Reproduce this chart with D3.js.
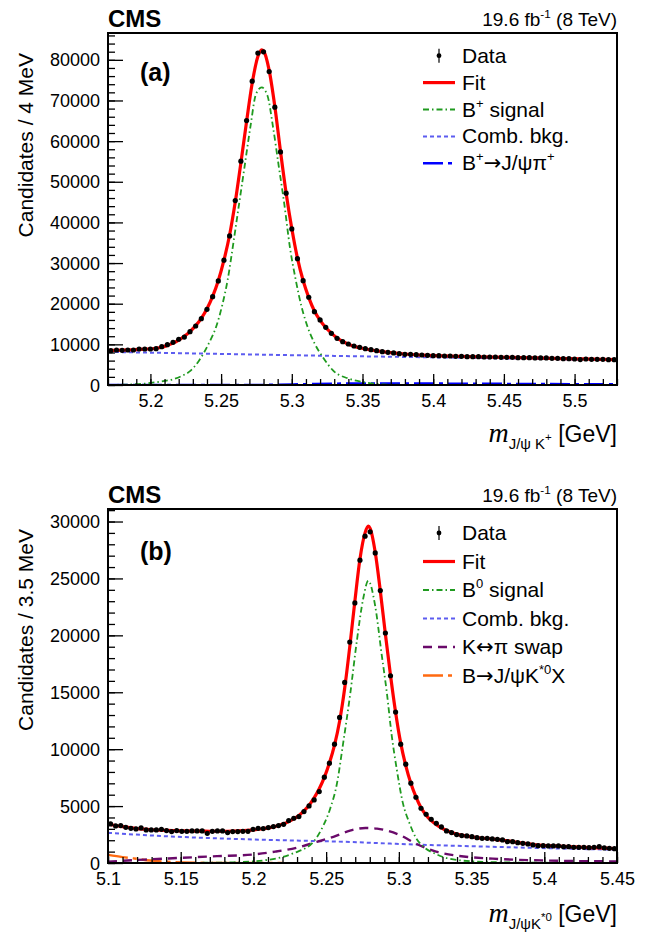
<!DOCTYPE html>
<html>
<head>
<meta charset="utf-8">
<script src="https://cdn.jsdelivr.net/npm/d3@7"></script>
<style>
  body { margin: 0; background: #fff; }
  text { font-family: "Liberation Sans", Arial, sans-serif; fill: #000; }
</style>
</head>
<body>
<div id="chart"></div>
<script>
// ---------- panel (a): B+ -> J/psi K+ , 4 MeV bins from 5.17
const binsA = { lo: 5.17, width: 0.004 };
const dataA = [
  8450, 8615, 8530, 8615, 8615, 8860, 8860, 8860, 8940, 9430,
  9925, 10500, 11250, 11800, 13120, 14520, 16320, 18630, 21730, 25600,
  30700, 36680, 45370, 55060, 65060, 74760, 81650, 81970, 77120, 68360,
  57350, 47190, 38400, 31090, 25670, 21590, 18050, 16000, 14200, 12720,
  11490, 10660, 10090, 9600, 9280, 8940, 8700, 8450, 8200, 8040,
  7880, 7710, 7550, 7550, 7470, 7380, 7300, 7220, 7220, 7140,
  7140, 7050, 7050, 6970, 6970, 6970, 6890, 6890, 6890, 6810,
  6810, 6810, 6730, 6730, 6730, 6650, 6650, 6650, 6560, 6560,
  6480, 6480, 6400, 6250, 6400, 6320, 6320, 6320, 6240, 6240
];
const fitAm = [5.17, 5.18, 5.188, 5.196, 5.204, 5.208, 5.212, 5.216, 5.22, 5.224,
  5.228, 5.232, 5.236, 5.24, 5.244, 5.248, 5.252, 5.256, 5.26, 5.264,
  5.268, 5.272, 5.276, 5.2787, 5.28, 5.284, 5.288, 5.292, 5.296, 5.3,
  5.304, 5.308, 5.312, 5.316, 5.32, 5.324, 5.328, 5.332, 5.336, 5.34,
  5.344, 5.348, 5.352, 5.356, 5.364, 5.372, 5.38, 5.392, 5.4, 5.412,
  5.432, 5.452, 5.472, 5.492, 5.512, 5.53];
const fitAv = [8520, 8580, 8680, 8820, 9050, 9300, 9750, 10300, 11050, 12000,
  13150, 14600, 16400, 18750, 21800, 25650, 30700, 36900, 45000, 54700,
  64800, 74300, 80800, 82450, 82200, 77400, 68500, 57500, 47200, 38500,
  31200, 25700, 21500, 18200, 15900, 14150, 12750, 11550, 10700, 10050,
  9550, 9150, 8850, 8620, 8230, 7900, 7620, 7360, 7230, 7090,
  6950, 6800, 6660, 6500, 6350, 6240];
const sigAm = [5.17, 5.185, 5.2, 5.208, 5.216, 5.222, 5.228, 5.2347, 5.2414, 5.2465,
  5.2507, 5.2547, 5.2587, 5.2627, 5.2667, 5.2707, 5.2747, 5.2787, 5.2827, 5.2867,
  5.2907, 5.2947, 5.2987, 5.3027, 5.3067, 5.31, 5.316, 5.322, 5.33, 5.34,
  5.352, 5.364, 5.38, 5.4, 5.53];
const sigAv = [30, 120, 490, 900, 1400, 2200, 3400, 6150, 10300, 14350,
  19500, 26000, 35000, 44500, 54000, 63500, 71600, 73200, 71300, 63500,
  54000, 44500, 33800, 26000, 19500, 15500, 10300, 6800, 3300, 1600,
  650, 160, 30, 0, 0];
const combAm = [5.17, 5.25, 5.33, 5.4, 5.45, 5.5, 5.53];
const combAv = [8150, 7640, 7160, 6800, 6550, 6300, 6150];
const piAm = [5.17, 5.26, 5.29, 5.31, 5.33, 5.36, 5.4, 5.45, 5.5, 5.53];
const piAv = [0, 0, 60, 200, 330, 380, 350, 280, 200, 160];

// ---------- panel (b): B0 -> J/psi K*0 , 3.5 MeV bins from 5.10
const binsB = { lo: 5.1, width: 0.0035 };
const dataB = [
  3431, 3255, 3284, 3138, 3050, 2991, 3079, 2903, 2903, 2903,
  2962, 2845, 2757, 2845, 2786, 2786, 2815, 2815, 2815, 2610,
  2786, 2815, 2815, 2669, 2757, 2757, 2786, 2786, 2962, 3050,
  3020, 3109, 3196, 3284, 3402, 3725, 3930, 4076, 4516, 5015,
  5543, 6276, 7536, 8768, 10440, 12786, 15866, 19413, 22845, 26600,
  28710, 29091, 27243, 23930, 20206, 16452, 13255, 10440, 8680, 7010,
  5778, 4810, 4282, 3842, 3490, 3167, 2815, 2669, 2493, 2405,
  2375, 2317, 2229, 2170, 2170, 2111, 2082, 2024, 1877, 1877,
  1789, 1730, 1672, 1584, 1525, 1525, 1496, 1496, 1496, 1437,
  1437, 1378, 1378, 1378, 1349, 1378, 1437, 1320, 1290, 1261
];
const fitBm = [5.1, 5.11, 5.12, 5.13, 5.14, 5.15, 5.16, 5.17, 5.18, 5.19,
  5.2, 5.20675, 5.21025, 5.21375, 5.21725, 5.22075, 5.22425, 5.22775, 5.23125, 5.23475,
  5.23825, 5.24175, 5.24525, 5.24875, 5.25225, 5.25575, 5.25925, 5.26275, 5.26625, 5.26975,
  5.27325, 5.27675, 5.279, 5.28025, 5.28375, 5.28725, 5.29075, 5.29425, 5.29775, 5.30125,
  5.30475, 5.30825, 5.31175, 5.31525, 5.31875, 5.32225, 5.32575, 5.32925, 5.33275, 5.33625,
  5.33975, 5.34675, 5.35375, 5.36425, 5.37475, 5.38525, 5.39575, 5.40625, 5.41675, 5.42725,
  5.43775, 5.44825, 5.45];
const fitBv = [3430, 3190, 3020, 2920, 2860, 2820, 2800, 2790, 2790, 2830,
  2910, 3010, 3080, 3170, 3290, 3440, 3640, 3880, 4180, 4580,
  5080, 5720, 6520, 7520, 8780, 10350, 12450, 15350, 19000, 23000,
  26700, 29000, 29590, 29400, 27300, 23900, 20100, 16500, 13250, 10550,
  8550, 7000, 5800, 4850, 4200, 3720, 3370, 3080, 2850, 2680,
  2540, 2360, 2230, 2100, 1950, 1740, 1570, 1500, 1440, 1380,
  1330, 1270, 1265];
const sigBm = [5.1, 5.15, 5.186, 5.2091, 5.2274, 5.2412, 5.2481, 5.2527, 5.2573, 5.2619,
  5.2664, 5.271, 5.2756, 5.279, 5.2837, 5.2882, 5.2917, 5.2951, 5.2986, 5.3027,
  5.3073, 5.3118, 5.3164, 5.3256, 5.344, 5.37, 5.4, 5.45];
const sigBv = [0, 10, 60, 264, 850, 1860, 3300, 4750, 6900, 10700,
  14700, 19400, 23300, 24800, 22600, 18300, 15000, 11200, 8200, 5300,
  3500, 2200, 1500, 780, 205, 60, 20, 5];
const combBm = [5.1, 5.14, 5.186, 5.232, 5.2527, 5.3118, 5.3806, 5.45];
const combBv = [2650, 2350, 2120, 1960, 1900, 1620, 1370, 1160];
const swapBm = [5.1, 5.125, 5.15, 5.175, 5.2, 5.215, 5.23, 5.2435, 5.255, 5.2664,
  5.277, 5.285, 5.2917, 5.3008, 5.3118, 5.3256, 5.3416, 5.3646, 5.4035, 5.45];
const swapBv = [120, 300, 450, 600, 750, 1000, 1350, 1850, 2300, 2850,
  3080, 3020, 2850, 2450, 1700, 1000, 620, 380, 210, 140];
const orangeBm = [5.1, 5.11, 5.1174, 5.1289, 5.14, 5.1518, 5.17, 5.2, 5.22];
const orangeBv = [720, 520, 410, 215, 110, 50, 12, 2, 0];

// ticks
const xMajorA = [5.2, 5.25, 5.3, 5.35, 5.4, 5.45, 5.5];
const yMajorA = [0, 10000, 20000, 30000, 40000, 50000, 60000, 70000, 80000];
const xMajorB = [5.1, 5.15, 5.2, 5.25, 5.3, 5.35, 5.4, 5.45];
const yMajorB = [0, 5000, 10000, 15000, 20000, 25000, 30000];

const svg = d3.select("#chart").append("svg")
  .attr("width", 646)
  .attr("height", 933);

// styles of the curves
const sty = {
  fit:   { color: "#ff0000", w: 3.2, dash: null },
  sig:   { color: "#1f9a1f", w: 1.8, dash: "6,3,1.5,3" },
  comb:  { color: "#5c5cf0", w: 2, dash: "4,3" },
  pi:    { color: "#0000ff", w: 2.5, dash: "20,5,4,5" },
  swap:  { color: "#6a0a6a", w: 2.4, dash: "9,6" },
  orng:  { color: "#ff6a10", w: 2.4, dash: "20,5,4,5" }
};

// text with sub/superscript parts : [string, kind, font options]
function richText(sel, parts, size) {
  let shift = 0;
  parts.forEach(([s, kind, opt]) => {
    let target = 0, fs = size;
    if (kind === "sup") { target = -size * 0.42; fs = size * 0.62; }
    if (kind === "sub") { target = size * 0.3; fs = size * 0.65; }
    if (kind === "subsup") { target = -size * 0.05; fs = size * 0.5; }
    const t = sel.append("tspan").attr("dy", target - shift).attr("font-size", fs).text(s);
    if (opt) {
      if (opt.family) t.attr("font-family", opt.family);
      if (opt.style) t.attr("font-style", opt.style);
      if (opt.size) t.attr("font-size", opt.size);
    }
    shift = target;
  });
}

function drawPanel(p) {
  const x = d3.scaleLinear().domain(p.xDom).range([108, 617]);
  const y = d3.scaleLinear().domain([0, p.yMax]).range([p.bottom, p.top]);
  const g = svg.append("g");

  g.append("clipPath").attr("id", "clip" + p.id)
    .append("rect")
    .attr("x", 108).attr("y", p.top)
    .attr("width", 509).attr("height", p.bottom - p.top);

  const line = (ms, vs) => d3.line()
    .x((d, i) => x(ms[i]))
    .y(d => y(d))
    .curve(d3.curveMonotoneX)(vs);

  p.curves.forEach(c => {
    g.append("path")
      .attr("d", line(c.m, c.v))
      .attr("clip-path", "url(#clip" + p.id + ")")
      .attr("fill", "none")
      .attr("stroke", c.s.color)
      .attr("stroke-width", c.s.w)
      .attr("stroke-dasharray", c.s.dash);
  });

  // data points
  g.selectAll("circle.pt")
    .data(p.data)
    .join("circle")
    .attr("class", "pt")
    .attr("cx", (d, i) => x(p.bins.lo + p.bins.width * (i + 0.5)))
    .attr("cy", d => y(d))
    .attr("r", 2.6)
    .attr("fill", "#000");

  // axes, ROOT style ticks pointing inward
  const yAx = g.append("g").attr("transform", "translate(108,0)")
    .call(d3.axisLeft(y).tickValues(p.yMajor).tickSizeInner(-15).tickSizeOuter(0)
      .tickPadding(8).tickFormat(d3.format("d")));
  g.append("g").attr("transform", "translate(108,0)")
    .call(d3.axisLeft(y).tickValues(p.yMinor).tickSizeInner(-7).tickSizeOuter(0).tickFormat(""));
  const xAx = g.append("g").attr("transform", "translate(0," + p.bottom + ")")
    .call(d3.axisBottom(x).tickValues(p.xMajor).tickSizeInner(-11).tickSizeOuter(0)
      .tickPadding(9).tickFormat(d => String(d)));
  g.append("g").attr("transform", "translate(0," + p.bottom + ")")
    .call(d3.axisBottom(x).tickValues(p.xMinor).tickSizeInner(-6).tickSizeOuter(0).tickFormat(""));
  g.selectAll(".domain").remove();
  g.selectAll(".tick line").attr("stroke", "#000").attr("stroke-width", 1.3);
  [yAx, xAx].forEach(a => a.attr("font-size", 18)
    .attr("font-family", "Liberation Sans, Arial, sans-serif"));
  yAx.selectAll("text").attr("dy", "0.34em");

  // frame
  g.append("rect")
    .attr("x", 108).attr("y", p.top)
    .attr("width", 509).attr("height", p.bottom - p.top)
    .attr("fill", "none").attr("stroke", "#000").attr("stroke-width", 2);

  // y title
  g.append("text")
    .attr("transform", "translate(33," + (p.top + 20) + ") rotate(-90)")
    .attr("text-anchor", "end")
    .attr("font-size", 21)
    .text(p.yTitle);

  // x title
  const xt = g.append("text")
    .attr("x", 617).attr("y", p.xTitleY)
    .attr("text-anchor", "end")
    .attr("font-size", 23);
  richText(xt, p.xTitle, 23);

  // CMS and lumi
  g.append("text").attr("x", 108).attr("y", p.top - 6.5)
    .attr("font-size", 24).attr("font-weight", "bold").text("CMS");
  const lumi = g.append("text").attr("x", 617).attr("y", p.top - 7)
    .attr("text-anchor", "end").attr("font-size", 19);
  richText(lumi, [["19.6 fb", ""], ["-1", "sup"], [" (8 TeV)", ""]], 19);

  // panel tag
  g.append("text").attr("x", 140).attr("y", p.tagY)
    .attr("font-size", 25).attr("font-weight", "bold").text(p.tag);

  // legend
  p.legend.forEach((e, i) => {
    const by = p.legY0 + p.legStep * i;
    const cy = by - 7;
    if (e.s) {
      g.append("line")
        .attr("x1", 423).attr("x2", 455).attr("y1", cy).attr("y2", cy)
        .attr("stroke", e.s.color).attr("stroke-width", e.s.w)
        .attr("stroke-dasharray", e.s.dash);
    } else {
      g.append("line").attr("x1", 439).attr("x2", 439)
        .attr("y1", cy - 7).attr("y2", cy + 7)
        .attr("stroke", "#000").attr("stroke-width", 1.2);
      g.append("circle").attr("cx", 439).attr("cy", cy).attr("r", 2.4).attr("fill", "#000");
    }
    const t = g.append("text").attr("x", 462).attr("y", by).attr("font-size", 21);
    richText(t, e.label, 21);
  });
}

const serifM = { family: "Liberation Serif, Times New Roman, serif", style: "italic", size: 28 };
const arrowF = { family: "DejaVu Sans, sans-serif" };

drawPanel({
  id: "a", tag: "(a)", tagY: 81,
  xDom: [5.17, 5.53], yMax: 86600, top: 33, bottom: 385,
  bins: binsA, data: dataA,
  xMajor: xMajorA, xMinor: d3.range(517, 554).map(v => v / 100),
  yMajor: yMajorA, yMinor: d3.range(0, 86001, 2000),
  yTitle: "Candidates / 4 MeV",
  xTitleY: 442,
  xTitle: [["m", "", serifM], ["J/\u03c8 K", "sub"], ["+", "subsup"], [" [GeV]", ""]],
  curves: [
    { m: combAm, v: combAv, s: sty.comb },
    { m: piAm, v: piAv, s: sty.pi },
    { m: sigAm, v: sigAv, s: sty.sig },
    { m: fitAm, v: fitAv, s: sty.fit }
  ],
  legY0: 62.7, legStep: 26.9,
  legend: [
    { label: [["Data", ""]] },
    { label: [["Fit", ""]], s: sty.fit },
    { label: [["B", ""], ["+", "sup"], [" signal", ""]], s: sty.sig },
    { label: [["Comb. bkg.", ""]], s: sty.comb },
    { label: [["B", ""], ["+", "sup"], ["\u2192", "", arrowF], ["J/\u03c8\u03c0", ""], ["+", "sup"]], s: sty.pi }
  ]
});

drawPanel({
  id: "b", tag: "(b)", tagY: 560,
  xDom: [5.1, 5.45], yMax: 31100, top: 509, bottom: 863,
  bins: binsB, data: dataB,
  xMajor: xMajorB, xMinor: d3.range(510, 546).map(v => v / 100),
  yMajor: yMajorB, yMinor: d3.range(0, 31001, 1000),
  yTitle: "Candidates / 3.5 MeV",
  xTitleY: 922,
  xTitle: [["m", "", serifM], ["J/\u03c8K", "sub"], ["*0", "subsup"], [" [GeV]", ""]],
  curves: [
    { m: combBm, v: combBv, s: sty.comb },
    { m: orangeBm, v: orangeBv, s: sty.orng },
    { m: swapBm, v: swapBv, s: sty.swap },
    { m: sigBm, v: sigBv, s: sty.sig },
    { m: fitBm, v: fitBv, s: sty.fit }
  ],
  legY0: 540, legStep: 28.5,
  legend: [
    { label: [["Data", ""]] },
    { label: [["Fit", ""]], s: sty.fit },
    { label: [["B", ""], ["0", "sup"], [" signal", ""]], s: sty.sig },
    { label: [["Comb. bkg.", ""]], s: sty.comb },
    { label: [["K", ""], ["\u2194", "", arrowF], ["\u03c0 swap", ""]], s: sty.swap },
    { label: [["B", ""], ["\u2192", "", arrowF], ["J/\u03c8K", ""], ["*0", "sup"], ["X", ""]], s: sty.orng }
  ]
});
</script>
</body>
</html>
